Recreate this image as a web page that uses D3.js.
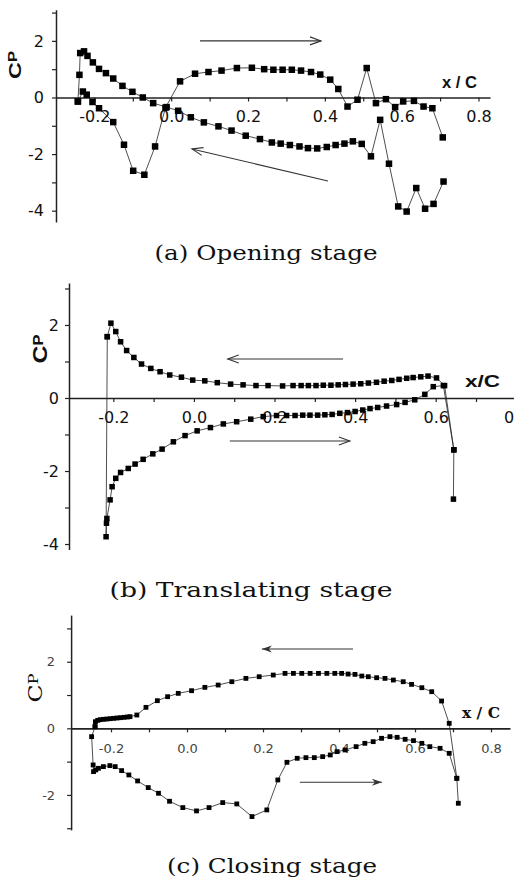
<!DOCTYPE html>
<html>
<head>
<meta charset="utf-8">
<script src="https://cdn.jsdelivr.net/npm/d3@7"></script>
<style>
  body { margin: 0; background: #fff; }
  svg { display: block; }
</style>
</head>
<body>
<div id="chart"></div>
<script>
// Cp over x/C. Each series is [x/C, Cp] in drawing order.
const aUpper = [[-0.243,-0.14],[-0.239,0.80],[-0.237,1.57],[-0.227,1.63],[-0.218,1.47],[-0.204,1.24],
  [-0.188,1.01],[-0.170,0.86],[-0.151,0.67],[-0.127,0.41],[-0.101,0.20],[-0.074,0.00],[-0.047,-0.20],
  [-0.012,-0.34],[0.018,-0.47],[0.051,-0.70],[0.085,-0.88],[0.123,-1.02],[0.157,-1.17],[0.194,-1.35],
  [0.231,-1.47],[0.262,-1.59],[0.285,-1.63],[0.309,-1.68],[0.334,-1.73],[0.356,-1.79],[0.380,-1.80],
  [0.405,-1.75],[0.428,-1.68],[0.451,-1.63],[0.473,-1.55],[0.496,-1.64],[0.520,-2.08],[0.544,-0.79],
  [0.567,-2.34],[0.591,-3.85],[0.613,-4.03],[0.638,-3.20],[0.661,-3.93],[0.683,-3.76],[0.709,-2.97]];
const aLower = [[-0.243,-0.14],[-0.230,0.21],[-0.220,0.10],[-0.205,-0.16],[-0.188,-0.38],[-0.151,-0.87],
  [-0.123,-1.67],[-0.099,-2.59],[-0.070,-2.73],[-0.042,-1.73],[-0.015,-0.36],[0.023,0.57],[0.062,0.84],
  [0.097,0.90],[0.131,0.95],[0.171,1.04],[0.210,1.05],[0.242,1.00],[0.266,0.98],[0.290,0.98],[0.314,0.98],
  [0.338,0.95],[0.364,0.90],[0.388,0.81],[0.414,0.63],[0.435,0.30],[0.459,-0.32],[0.485,-0.08],[0.509,1.04],
  [0.533,-0.20],[0.559,-0.06],[0.583,-0.34],[0.604,-0.14],[0.632,-0.12],[0.657,-0.32],[0.680,-0.38],[0.707,-1.41]];

const bUpper = [[-0.215,1.68],[-0.206,2.05],[-0.194,1.82],[-0.182,1.54],[-0.167,1.30],[-0.149,1.11],
  [-0.130,0.93],[-0.107,0.81],[-0.084,0.72],[-0.060,0.63],[-0.031,0.57],[-0.003,0.49],[0.027,0.47],
  [0.058,0.42],[0.091,0.38],[0.122,0.36],[0.154,0.34],[0.184,0.34],[0.220,0.33],[0.246,0.34],[0.266,0.34],
  [0.284,0.34],[0.303,0.34],[0.321,0.35],[0.340,0.35],[0.358,0.36],[0.376,0.37],[0.395,0.38],[0.414,0.39],
  [0.433,0.41],[0.453,0.43],[0.472,0.46],[0.491,0.48],[0.509,0.51],[0.528,0.54],[0.544,0.56],[0.563,0.58],
  [0.581,0.60],[0.602,0.55],[0.622,0.34],[0.645,-1.42]];
const bLower = [[-0.215,1.68],[-0.218,-3.80],[-0.217,-3.43],[-0.216,-3.30],[-0.208,-2.79],[-0.203,-2.43],
  [-0.194,-2.20],[-0.182,-2.04],[-0.163,-1.93],[-0.146,-1.81],[-0.126,-1.68],[-0.102,-1.53],[-0.079,-1.40],
  [-0.051,-1.20],[-0.022,-1.03],[0.008,-0.90],[0.041,-0.81],[0.073,-0.71],[0.106,-0.65],[0.141,-0.58],
  [0.172,-0.51],[0.205,-0.48],[0.230,-0.48],[0.251,-0.48],[0.270,-0.47],[0.288,-0.47],[0.307,-0.47],
  [0.325,-0.46],[0.343,-0.45],[0.362,-0.42],[0.381,-0.40],[0.400,-0.37],[0.419,-0.33],[0.437,-0.29],
  [0.456,-0.26],[0.478,-0.22],[0.503,-0.18],[0.524,-0.12],[0.548,-0.05],[0.573,0.10],[0.594,0.31],
  [0.619,0.34],[0.645,-1.42],[0.644,-2.77]];

const cUpper = [[-0.242,0.05],[-0.241,0.20],[-0.235,0.24],[-0.228,0.26],[-0.220,0.27],[-0.211,0.28],
  [-0.202,0.29],[-0.193,0.30],[-0.184,0.31],[-0.175,0.32],[-0.166,0.33],[-0.157,0.34],[-0.150,0.35],
  [-0.132,0.40],[-0.108,0.63],[-0.078,0.83],[-0.051,0.95],[-0.023,1.05],[0.012,1.13],[0.047,1.23],
  [0.082,1.30],[0.118,1.40],[0.155,1.50],[0.190,1.55],[0.227,1.60],[0.258,1.65],[0.280,1.65],[0.302,1.65],
  [0.324,1.65],[0.346,1.65],[0.368,1.65],[0.389,1.65],[0.407,1.65],[0.424,1.63],[0.442,1.62],[0.460,1.57],
  [0.477,1.55],[0.499,1.52],[0.521,1.50],[0.543,1.45],[0.569,1.40],[0.591,1.32],[0.618,1.22],[0.644,1.10],
  [0.670,0.82],[0.690,0.15],[0.710,-1.50]];
const cLower = [[-0.242,0.05],[-0.251,-0.25],[-0.247,-1.10],[-0.246,-1.30],[-0.240,-1.25],[-0.233,-1.20],
  [-0.220,-1.15],[-0.203,-1.12],[-0.189,-1.15],[-0.172,-1.27],[-0.153,-1.40],[-0.130,-1.58],[-0.102,-1.78],
  [-0.075,-1.95],[-0.046,-2.19],[-0.011,-2.38],[0.025,-2.48],[0.058,-2.38],[0.094,-2.23],[0.131,-2.27],
  [0.171,-2.65],[0.210,-2.45],[0.239,-1.55],[0.263,-1.02],[0.290,-0.90],[0.313,-0.88],[0.335,-0.88],
  [0.357,-0.85],[0.377,-0.80],[0.395,-0.70],[0.416,-0.65],[0.445,-0.55],[0.468,-0.45],[0.490,-0.40],
  [0.512,-0.30],[0.534,-0.25],[0.553,-0.27],[0.574,-0.33],[0.596,-0.37],[0.618,-0.45],[0.639,-0.55],
  [0.666,-0.60],[0.690,-0.75],[0.710,-1.50],[0.714,-2.25]];

// direction arrows, [x1, y1, x2, y2] in data units, head at the second point
const aArrows = [[0.075,2.0,0.39,2.0],[0.408,-2.95,0.054,-1.82]];
const bArrows = [[0.37,1.07,0.084,1.07],[0.089,-1.18,0.387,-1.18]];
const cArrows = [[0.437,2.38,0.197,2.38],[0.297,-1.62,0.513,-1.62]];

const xTicks = [-0.2,-0.1,0.0,0.1,0.2,0.3,0.4,0.5,0.6,0.7,0.8];
const xTickLabels = ["-0.2","","0.0","","0.2","","0.4","","0.6","","0.8"];
const aYTicks = [-4,-3,-2,-1,0,1,2,3];
const aYTickLabels = ["-4","","-2","","0","","2",""];
const bYTicks = [-4,-3,-2,-1,0,1,2,3];
const bYTickLabels = ["-4","","-2","","0","","2",""];
const cYTicks = [-3,-2,-1,0,1,2,3];
const cYTickLabels = ["","-2","","0","","2",""];

const captions = ["(a) Opening stage", "(b) Translating stage", "(c) Closing stage"];

const width = 514, height = 882;

const svg = d3.select("#chart").append("svg")
  .attr("width", width)
  .attr("height", height);

const defs = svg.append("defs");
defs.append("marker").attr("id", "openHead")
  .attr("markerUnits", "userSpaceOnUse")
  .attr("viewBox", "-12 -6 14 12").attr("refX", 0).attr("refY", 0)
  .attr("markerWidth", 14).attr("markerHeight", 12).attr("orient", "auto")
  .append("path").attr("d", "M-11,-4 L0,0 L-11,4")
  .attr("fill", "none").attr("stroke", "#333").attr("stroke-width", 1.1);
defs.append("marker").attr("id", "solidHead")
  .attr("markerUnits", "userSpaceOnUse")
  .attr("viewBox", "-12 -6 14 12").attr("refX", 0).attr("refY", 0)
  .attr("markerWidth", 14).attr("markerHeight", 12).attr("orient", "auto")
  .append("path").attr("d", "M-10,-3.5 L0,0 L-10,3.5 L-7,0 Z")
  .attr("fill", "#333");

const panels = [
  { upper: aUpper, lower: aLower, arrows: aArrows, head: "openHead",
    xDom: [-0.3, 0.83], xRange: [56, 490], yDom: [-4.4, 3.1], yRange: [222, 9.75],
    yTicks: aYTicks, yLabels: aYTickLabels, caption: captions[0], cap: [266, 260, 223],
    mark: 6.5, tickFont: "16px 'DejaVu Sans'", tickFill: "#111", yPad: 8,
    cp: { x: 15, y: 65, size: 17, len: 28, weight: "bold", family: "'Liberation Sans', Arial" },
    xc: { text: "x / C", x: 442, y: 88, len: 35, size: 17, weight: "bold", family: "'Liberation Sans', Arial" } },
  { upper: bUpper, lower: bLower, arrows: bArrows, head: "openHead",
    xDom: [-0.31, 0.8], xRange: [69, 516.3], yDom: [-4.15, 3.15], yRange: [549.5, 283],
    yTicks: bYTicks, yLabels: bYTickLabels, caption: captions[1], cap: [251, 597, 283],
    mark: 5.5, tickFont: "16px 'DejaVu Sans'", tickFill: "#111", yPad: 6,
    cp: { x: 40, y: 349, size: 21, len: 29, weight: "bold", family: "'Liberation Sans', Arial" },
    xc: { text: "x/C", x: 465, y: 387, len: 35, size: 16, weight: "bold", family: "'Liberation Sans', Arial" } },
  { upper: cUpper, lower: cLower, arrows: cArrows, head: "solidHead",
    xDom: [-0.305, 0.85], xRange: [71.1, 510], yDom: [-3.05, 3.4], yRange: [829.9, 615.1],
    yTicks: cYTicks, yLabels: cYTickLabels, caption: captions[2], cap: [272, 873, 210],
    mark: 4.8, tickFont: "13px 'DejaVu Sans'", tickFill: "#444", yPad: 12,
    cp: { x: 36, y: 688, size: 18, len: 29, weight: "normal", family: "'DejaVu Serif', serif" },
    xc: { text: "x / C", x: 462, y: 718, len: 38, size: 15, weight: "bold", family: "'DejaVu Serif', serif" } }
];

panels.forEach(p => {
  const x = d3.scaleLinear().domain(p.xDom).range(p.xRange);
  const y = d3.scaleLinear().domain(p.yDom).range(p.yRange);
  const g = svg.append("g");

  // x axis sits on Cp = 0
  const xAxis = g.append("g")
    .attr("transform", `translate(0,${y(0)})`)
    .call(d3.axisBottom(x)
      .tickValues(xTicks)
      .tickSize(4)
      .tickSizeOuter(0)
      .tickFormat((d, i) => xTickLabels[i]));
  xAxis.select(".domain").attr("stroke", "#222").attr("stroke-width", 1.6);
  xAxis.selectAll(".tick line").attr("stroke", "#222").attr("stroke-width", 1.2);
  xAxis.selectAll(".tick text")
    .attr("y", 25).attr("dy", null)
    .style("font", p.tickFont).attr("fill", p.tickFill);

  const yAxis = g.append("g")
    .attr("transform", `translate(${p.xRange[0]},0)`)
    .call(d3.axisLeft(y)
      .tickValues(p.yTicks)
      .tickSize(4)
      .tickPadding(p.yPad)
      .tickSizeOuter(0)
      .tickFormat((d, i) => p.yLabels[i]));
  yAxis.select(".domain").attr("stroke", "#222").attr("stroke-width", 1.5);
  yAxis.selectAll(".tick line").attr("stroke", "#222").attr("stroke-width", 1.2);
  yAxis.selectAll(".tick text")
    .style("font", p.tickFont).attr("fill", p.tickFill);

  // axis titles
  const cp = g.append("text")
    .attr("transform", `translate(${p.cp.x},${p.cp.y}) rotate(-90)`)
    .attr("text-anchor", "middle")
    .attr("dy", "0.35em")
    .attr("textLength", p.cp.len)
    .attr("lengthAdjust", "spacingAndGlyphs")
    .style("font-family", p.cp.family)
    .style("font-weight", p.cp.weight)
    .style("font-size", p.cp.size + "px")
    .attr("fill", "#111");
  cp.append("tspan").text("C");
  cp.append("tspan").text("P")
    .style("font-size", Math.round(p.cp.size * 0.68) + "px")
    .attr("dy", -p.cp.size * 0.22);

  g.append("text")
    .attr("x", p.xc.x).attr("y", p.xc.y)
    .attr("textLength", p.xc.len)
    .attr("lengthAdjust", "spacingAndGlyphs")
    .style("font-family", p.xc.family)
    .style("font-weight", p.xc.weight)
    .style("font-size", p.xc.size + "px")
    .attr("fill", "#111")
    .text(p.xc.text);

  // direction arrows
  g.selectAll(".arrow")
    .data(p.arrows)
    .join("line")
    .attr("class", "arrow")
    .attr("x1", d => x(d[0])).attr("y1", d => y(d[1]))
    .attr("x2", d => x(d[2])).attr("y2", d => y(d[3]))
    .attr("stroke", "#333")
    .attr("stroke-width", 1.1)
    .attr("marker-end", `url(#${p.head})`);

  // connecting lines and square markers
  const line = d3.line().x(d => x(d[0])).y(d => y(d[1]));
  [p.upper, p.lower].forEach(series => {
    g.append("path")
      .datum(series)
      .attr("d", line)
      .attr("fill", "none")
      .attr("stroke", "#222")
      .attr("stroke-width", 0.8);
    g.selectAll(null)
      .data(series)
      .join("rect")
      .attr("x", d => x(d[0]) - p.mark / 2)
      .attr("y", d => y(d[1]) - p.mark / 2)
      .attr("width", p.mark)
      .attr("height", p.mark)
      .attr("fill", "#000");
  });

  // caption under the panel
  svg.append("text")
    .attr("x", p.cap[0]).attr("y", p.cap[1])
    .attr("text-anchor", "middle")
    .attr("textLength", p.cap[2])
    .attr("lengthAdjust", "spacingAndGlyphs")
    .style("font-family", "'DejaVu Serif', 'Liberation Serif', serif")
    .style("font-size", "20px")
    .attr("fill", "#111")
    .text(p.caption);
});
</script>
</body>
</html>
